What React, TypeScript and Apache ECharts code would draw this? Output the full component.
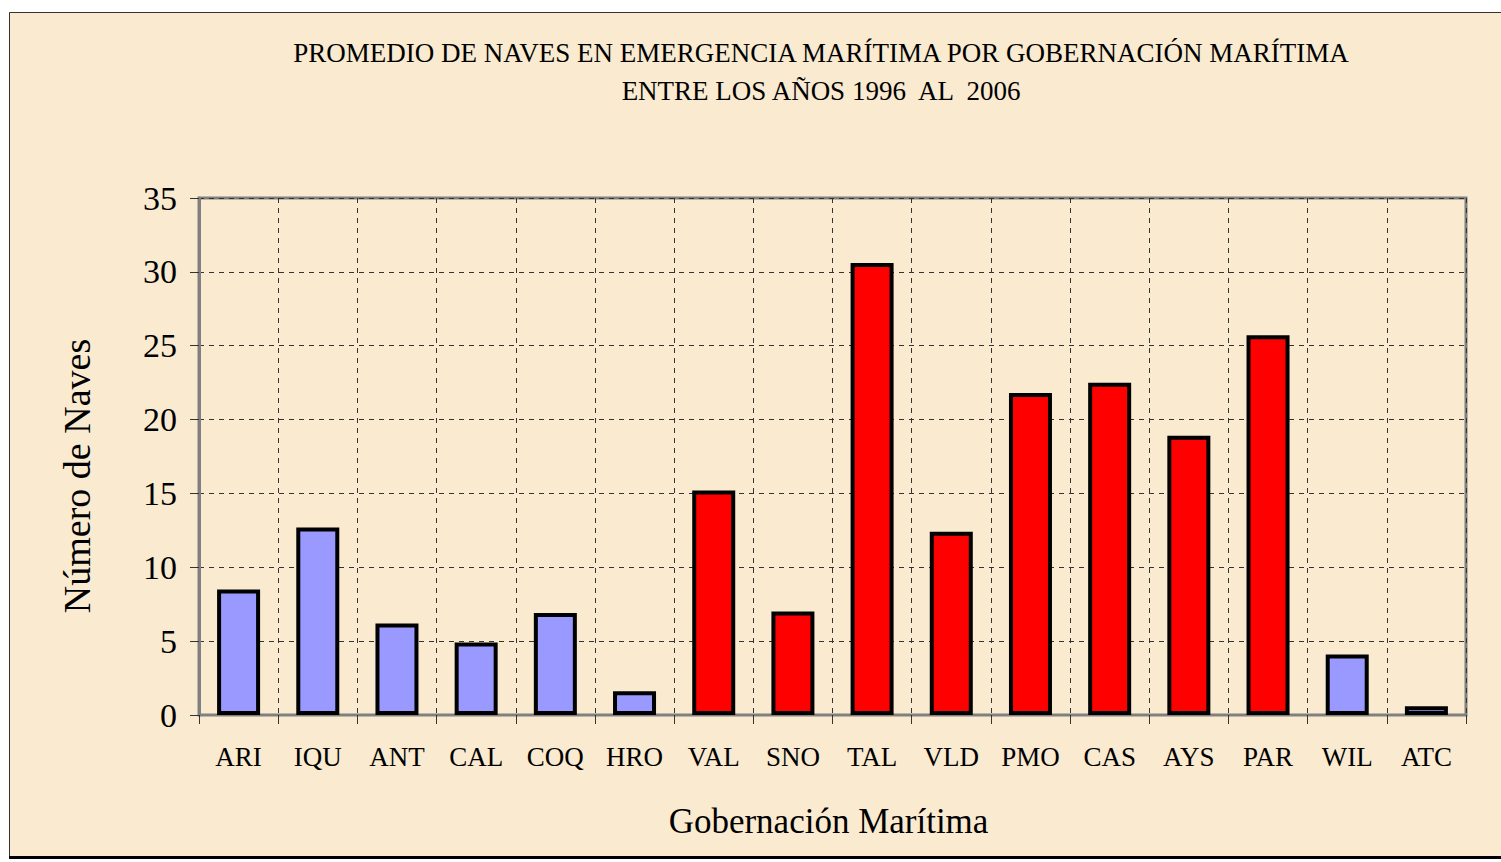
import React, { useEffect, useRef } from "react";
import * as echarts from "echarts";

const categories = ["ARI", "IQU", "ANT", "CAL", "COQ", "HRO", "VAL", "SNO", "TAL", "VLD", "PMO", "CAS", "AYS", "PAR", "WIL", "ATC"];
// Gobernaciones drawn in blue (periwinkle)
const blueValues = [8.5, 12.7, 6.2, 4.9, 6.9, 1.6, null, null, null, null, null, null, null, null, 4.1, 0.6];
// Gobernaciones drawn in red
const redValues = [null, null, null, null, null, null, 15.2, 7.0, 30.6, 12.4, 21.8, 22.5, 18.9, 25.7, null, null];
const titleLines = [
  "PROMEDIO DE NAVES EN EMERGENCIA MARÍTIMA POR GOBERNACIÓN MARÍTIMA",
  "ENTRE LOS AÑOS 1996  AL  2006",
];
const yAxisName = "Número de Naves";
const xAxisName = "Gobernación Marítima";

const FONT = "'Liberation Serif', 'DejaVu Serif', serif";

export default function App() {
  const ref = useRef<HTMLDivElement>(null);
  useEffect(() => {
    if (!ref.current) return;
    const chart = echarts.init(ref.current, null, { renderer: "svg" });
    const barStyle = (color: string) => ({
      color,
      borderColor: "#000000",
      borderWidth: 4,
    });
    chart.setOption({
      animation: false,
      backgroundColor: "#F9EAD0",
      textStyle: { fontFamily: FONT, color: "#000" },
      graphic: [
        { type: "rect", shape: { x: 0, y: 0, width: 1501, height: 12 }, style: { fill: "#fff" }, z: 100, silent: true },
        { type: "rect", shape: { x: 0, y: 0, width: 9, height: 862 }, style: { fill: "#fff" }, z: 100, silent: true },
        { type: "rect", shape: { x: 0, y: 859, width: 1501, height: 3 }, style: { fill: "#fff" }, z: 100, silent: true },
        { type: "line", shape: { x1: 9.5, y1: 12.5, x2: 1501, y2: 12.5 }, style: { stroke: "#333", lineWidth: 1 }, z: 101, silent: true },
        { type: "line", shape: { x1: 9.5, y1: 12.5, x2: 9.5, y2: 859 }, style: { stroke: "#333", lineWidth: 1 }, z: 101, silent: true },
        { type: "line", shape: { x1: 9, y1: 857.5, x2: 1501, y2: 857.5 }, style: { stroke: "#000", lineWidth: 3 }, z: 101, silent: true },
        {
          type: "text",
          x: 821,
          y: 53,
          style: { text: titleLines[0], font: `27px ${FONT}`, fill: "#000", align: "center", verticalAlign: "middle" },
          z: 102,
        },
        {
          type: "text",
          x: 821,
          y: 91,
          style: { text: titleLines[1], font: `27px ${FONT}`, fill: "#000", align: "center", verticalAlign: "middle" },
          z: 102,
        },
        {
          type: "text",
          x: 77,
          y: 476,
          rotation: Math.PI / 2,
          style: { text: yAxisName, font: `38px ${FONT}`, fill: "#000", align: "center", verticalAlign: "middle" },
          z: 102,
        },
      ],
      grid: {
        left: 199,
        right: 35,
        top: 198,
        bottom: 147,
        show: true,
        borderColor: "#808080",
        borderWidth: 3,
        backgroundColor: "transparent",
      },
      xAxis: {
        type: "category",
        data: categories,
        boundaryGap: true,
        name: xAxisName,
        nameLocation: "middle",
        nameGap: 89,
        nameTextStyle: { fontSize: 35, fontFamily: FONT, color: "#000", padding: [0, 8, 0, 0] },
        axisLine: { show: true, lineStyle: { color: "#808080", width: 2 } },
        axisTick: { show: true, alignWithLabel: false, length: 9, lineStyle: { color: "#333", width: 1 } },
        axisLabel: { fontSize: 27, fontFamily: FONT, color: "#000", margin: 28 },
        splitLine: { show: true, lineStyle: { color: "#333", type: [5, 5], width: 1 } },
      },
      yAxis: {
        type: "value",
        min: 0,
        max: 35,
        interval: 5,
        axisLine: { show: true, lineStyle: { color: "#808080", width: 3 } },
        axisTick: { show: true, length: 9, lineStyle: { color: "#333", width: 1 } },
        axisLabel: { fontSize: 34, fontFamily: FONT, color: "#000", margin: 22 },
        splitLine: { show: true, lineStyle: { color: "#333", type: [5, 5], width: 1 } },
      },
      series: [
        {
          type: "bar",
          name: "Azul",
          stack: "total",
          data: blueValues,
          barWidth: 43,
          itemStyle: barStyle("#9999FF"),
        },
        {
          type: "bar",
          name: "Rojo",
          stack: "total",
          data: redValues,
          barWidth: 43,
          itemStyle: barStyle("#FF0000"),
        },
      ],
    });
    return () => chart.dispose();
  }, []);
  return <div ref={ref} style={{ position: "fixed", left: 0, top: 0, width: 1501, height: 862 }} />;
}
